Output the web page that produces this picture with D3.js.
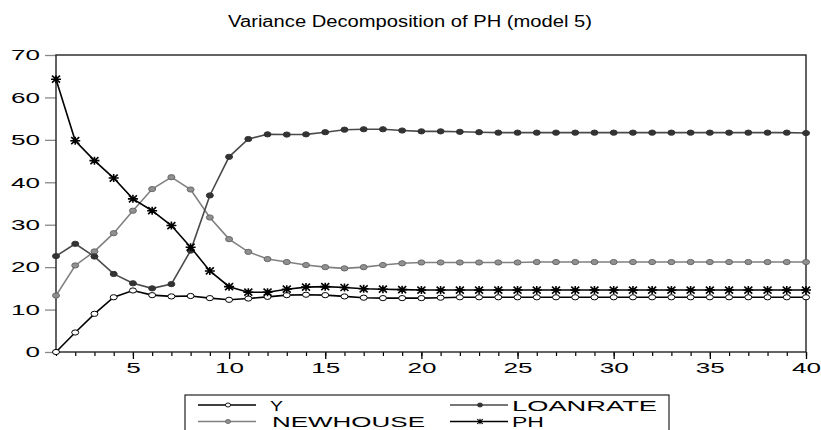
<!DOCTYPE html>
<html>
<head>
<meta charset="utf-8">
<script src="https://cdn.jsdelivr.net/npm/d3@7"></script>
<style>
  body { margin: 0; background: #fff; }
  svg { display: block; font-family: "Liberation Sans", Arial, Helvetica, sans-serif; }
</style>
</head>
<body>
<svg id="chart" width="821" height="430"></svg>
<script>
// periods 1..40
var periods = d3.range(1, 41);

var yShare = [0, 4.6, 9.0, 12.9, 14.5, 13.4, 13.1, 13.2, 12.7, 12.3,
    12.6, 13.0, 13.4, 13.5, 13.4, 13.1, 12.8, 12.7, 12.7, 12.7,
    12.8, 12.9, 12.9, 12.9, 12.9, 12.9, 12.9, 12.9, 12.9, 12.9,
    12.9, 12.9, 12.9, 12.9, 12.9, 12.9, 12.9, 12.9, 12.9, 12.9];
var newhouse = [13.3, 20.4, 23.7, 28.0, 33.3, 38.4, 41.2, 38.3, 31.7, 26.6,
    23.6, 21.9, 21.2, 20.5, 20.0, 19.7, 20.0, 20.5, 20.9, 21.1,
    21.1, 21.1, 21.1, 21.1, 21.1, 21.2, 21.2, 21.2, 21.2, 21.2,
    21.2, 21.2, 21.2, 21.2, 21.2, 21.2, 21.2, 21.2, 21.2, 21.2];
var loanrate = [22.6, 25.5, 22.5, 18.4, 16.2, 15.0, 16.0, 23.9, 36.9, 46.0,
    50.2, 51.3, 51.25, 51.3, 51.8, 52.4, 52.5, 52.5, 52.2, 52.0,
    52.0, 51.9, 51.8, 51.7, 51.7, 51.7, 51.7, 51.7, 51.7, 51.7,
    51.7, 51.7, 51.7, 51.7, 51.7, 51.7, 51.7, 51.7, 51.7, 51.6];
var ph = [64.3, 49.8, 45.1, 41.0, 36.1, 33.3, 29.8, 24.7, 19.1, 15.4,
    14.1, 14.1, 14.8, 15.3, 15.4, 15.2, 14.9, 14.8, 14.7, 14.6,
    14.6, 14.6, 14.6, 14.6, 14.6, 14.6, 14.6, 14.6, 14.6, 14.6,
    14.6, 14.6, 14.6, 14.6, 14.6, 14.6, 14.6, 14.6, 14.6, 14.6];

var yTicks = [0, 10, 20, 30, 40, 50, 60, 70];
var xTickLabels = [5, 10, 15, 20, 25, 30, 35, 40];
var seriesNames = ["Y", "NEWHOUSE", "LOANRATE", "PH"];

var svg = d3.select("#chart");
var x = d3.scaleLinear().domain([1, 40]).range([56, 806]);
var y = d3.scaleLinear().domain([0, 70]).range([352, 55]);

// title
svg.append("text")
    .attr("x", 410).attr("y", 27)
    .attr("text-anchor", "middle")
    .attr("font-size", "16px")
    .attr("textLength", 364).attr("lengthAdjust", "spacingAndGlyphs")
    .text("Variance Decomposition of PH (model 5)");

// axes
var gy = svg.append("g").attr("transform", "translate(56,0)")
    .call(d3.axisLeft(y).tickValues(yTicks).tickSize(11).tickPadding(5).tickFormat(d3.format("d")));
gy.select(".domain").remove();
gy.selectAll(".tick line").attr("stroke", "#888").attr("stroke-width", 1.3);
gy.selectAll(".tick text").attr("font-size", "15px").attr("fill", "#000")
    .attr("font-family", "'Liberation Sans', Arial, sans-serif")
    .attr("textLength", function (d) { return String(d).length * 14.5; })
    .attr("lengthAdjust", "spacingAndGlyphs");

var gxMinor = svg.append("g").attr("transform", "translate(0,352)")
    .call(d3.axisBottom(x).tickValues(periods).tickSize(4).tickFormat(""));
gxMinor.select(".domain").remove();
gxMinor.selectAll(".tick line").attr("stroke", "#000").attr("stroke-width", 1.2);

var gx = svg.append("g").attr("transform", "translate(0,352)")
    .call(d3.axisBottom(x).tickValues(xTickLabels).tickSize(7).tickPadding(3));
gx.select(".domain").remove();
gx.selectAll(".tick line").attr("stroke", "#000").attr("stroke-width", 1.3);
gx.selectAll(".tick text").attr("font-size", "15px").attr("fill", "#000")
    .attr("font-family", "'Liberation Sans', Arial, sans-serif")
    .attr("textLength", function (d) { return String(d).length * 14.5; })
    .attr("lengthAdjust", "spacingAndGlyphs");

// frame
svg.append("rect")
    .attr("x", x(1)).attr("y", y(70))
    .attr("width", x(40) - x(1)).attr("height", y(0) - y(70))
    .attr("fill", "none").attr("stroke", "#222").attr("stroke-width", 1.4);

var line = d3.line().x(function (d, i) { return x(periods[i]); }).y(function (d) { return y(d); });

function asterisk(cx, cy, s) {
    return "M" + (cx - s) + "," + cy + "L" + (cx + s) + "," + cy +
        "M" + cx + "," + (cy - s * 0.8) + "L" + cx + "," + (cy + s * 0.8) +
        "M" + (cx - s * 0.8) + "," + (cy - s * 0.7) + "L" + (cx + s * 0.8) + "," + (cy + s * 0.7) +
        "M" + (cx - s * 0.8) + "," + (cy + s * 0.7) + "L" + (cx + s * 0.8) + "," + (cy - s * 0.7);
}

var styles = {
    "Y": {data: yShare, line: "#000", fill: "#fff", stroke: "#000", mark: "circle"},
    "NEWHOUSE": {data: newhouse, line: "#808080", fill: "#909090", stroke: "#686868", mark: "circle"},
    "LOANRATE": {data: loanrate, line: "#4a4a4a", fill: "#333", stroke: "#333", mark: "circle"},
    "PH": {data: ph, line: "#000", fill: "none", stroke: "#000", mark: "star"}
};

var plot = svg.append("g");
["NEWHOUSE", "LOANRATE", "Y", "PH"].forEach(function (name) {
    var st = styles[name];
    var g = plot.append("g");
    g.append("path").attr("d", line(st.data))
        .attr("fill", "none").attr("stroke", st.line).attr("stroke-width", 1.6);
    if (st.mark == "circle") {
        g.selectAll("ellipse").data(st.data).enter().append("ellipse")
            .attr("cx", function (d, i) { return x(periods[i]); })
            .attr("cy", function (d) { return y(d); })
            .attr("rx", 3.5).attr("ry", 2.6)
            .attr("fill", st.fill).attr("stroke", st.stroke).attr("stroke-width", 1);
    } else {
        g.selectAll("path.mk").data(st.data).enter().append("path").attr("class", "mk")
            .attr("d", function (d, i) { return asterisk(x(periods[i]), y(d), 5); })
            .attr("stroke", st.stroke).attr("stroke-width", 1.6);
    }
});

// legend
var legend = svg.append("g");
legend.append("rect").attr("x", 185).attr("y", 395).attr("width", 484).attr("height", 45)
    .attr("fill", "#fff").attr("stroke", "#222").attr("stroke-width", 1.2);
var legPos = {
    "Y": {x: 198, y: 405, tx: 270, tl: 13},
    "LOANRATE": {x: 450, y: 405, tx: 512, tl: 145},
    "NEWHOUSE": {x: 198, y: 421.5, tx: 272, tl: 153},
    "PH": {x: 450, y: 421.5, tx: 512, tl: 32}
};
seriesNames.forEach(function (name) {
    var st = styles[name], p = legPos[name];
    legend.append("line").attr("x1", p.x).attr("x2", p.x + 58).attr("y1", p.y).attr("y2", p.y)
        .attr("stroke", st.line).attr("stroke-width", 1.3);
    if (st.mark == "circle") {
        legend.append("ellipse").attr("cx", p.x + 30).attr("cy", p.y).attr("rx", 2.6).attr("ry", 2)
            .attr("fill", st.fill).attr("stroke", st.stroke).attr("stroke-width", 0.9);
    } else {
        legend.append("path").attr("d", asterisk(p.x + 30, p.y, 3.5))
            .attr("stroke", st.stroke).attr("stroke-width", 1.1);
    }
    legend.append("text").attr("x", p.tx).attr("y", p.y + 5.5)
        .attr("font-size", "15px")
        .attr("textLength", p.tl).attr("lengthAdjust", "spacingAndGlyphs")
        .text(name);
});
</script>
</body>
</html>
